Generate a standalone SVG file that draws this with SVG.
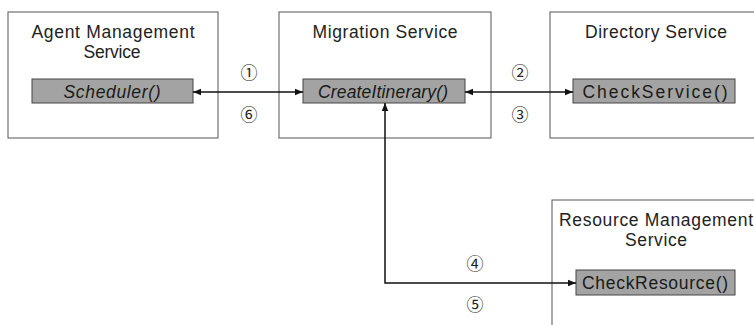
<svg xmlns="http://www.w3.org/2000/svg" width="754" height="325" viewBox="0 0 754 325">
<defs>
<marker id="ah" viewBox="0 0 10 10" refX="10" refY="5" markerWidth="8" markerHeight="8" markerUnits="userSpaceOnUse" orient="auto-start-reverse">
<path d="M0,1 L10,5 L0,9 z" fill="#111"/>
</marker>
</defs>
<style>
.svc{fill:#fff;stroke:#555;stroke-width:1}
.fn{fill:#a3a3a3;stroke:#444;stroke-width:1}
.t{font-family:"Liberation Sans",Arial,sans-serif;font-size:17.5px;fill:#222;text-anchor:middle}
.f{font-family:"Liberation Sans",Arial,sans-serif;font-size:17.5px;fill:#1a1a1a;text-anchor:middle}
.n{font-family:"Noto Sans CJK KR","DejaVu Sans",sans-serif;font-size:17px;fill:#222;text-anchor:middle}
.c{fill:none;stroke:#111;stroke-width:1.5}
</style>
<rect width="754" height="325" fill="#fff"/>
<g id="agent">
<rect class="svc" x="8" y="12" width="210" height="126"/>
<text class="t" x="113" y="38" textLength="163">Agent Management</text>
<text class="t" x="112" y="58" textLength="57">Service</text>
<rect class="fn" x="32" y="79" width="161" height="24"/>
<text class="f" x="112" y="98" font-style="italic" textLength="97">Scheduler()</text>
</g>
<g id="migration">
<rect class="svc" x="279" y="12" width="212" height="126"/>
<text class="t" x="385" y="38" textLength="145">Migration Service</text>
<rect class="fn" x="303" y="79" width="162" height="24"/>
<text class="f" x="383" y="98" font-style="italic" textLength="130">CreateItinerary()</text>
</g>
<g id="directory">
<rect class="svc" x="550" y="12" width="215" height="126"/>
<text class="t" x="656" y="38" textLength="142">Directory Service</text>
<rect class="fn" x="573" y="79" width="162" height="24"/>
<text class="f" x="655" y="98" textLength="145">CheckService()</text>
</g>
<g id="resource">
<rect class="svc" x="552" y="200" width="215" height="135"/>
<text class="t" x="656" y="226" textLength="194">Resource Management</text>
<text class="t" x="656" y="246" textLength="62">Service</text>
<rect class="fn" x="576" y="270" width="159" height="25"/>
<text class="f" x="655" y="289" textLength="146">CheckResource()</text>
</g>
<g id="connectors">
<line class="c" x1="193" y1="92" x2="303" y2="92" marker-start="url(#ah)" marker-end="url(#ah)"/>
<line class="c" x1="465" y1="92" x2="573" y2="92" marker-start="url(#ah)" marker-end="url(#ah)"/>
<polyline class="c" points="385,103 385,283 576,283" marker-start="url(#ah)" marker-end="url(#ah)"/>
<text class="n" x="249" y="79">①</text>
<text class="n" x="249" y="121">⑥</text>
<text class="n" x="520" y="79">②</text>
<text class="n" x="520" y="121">③</text>
<text class="n" x="475" y="270">④</text>
<text class="n" x="475" y="311">⑤</text>
</g>
</svg>
